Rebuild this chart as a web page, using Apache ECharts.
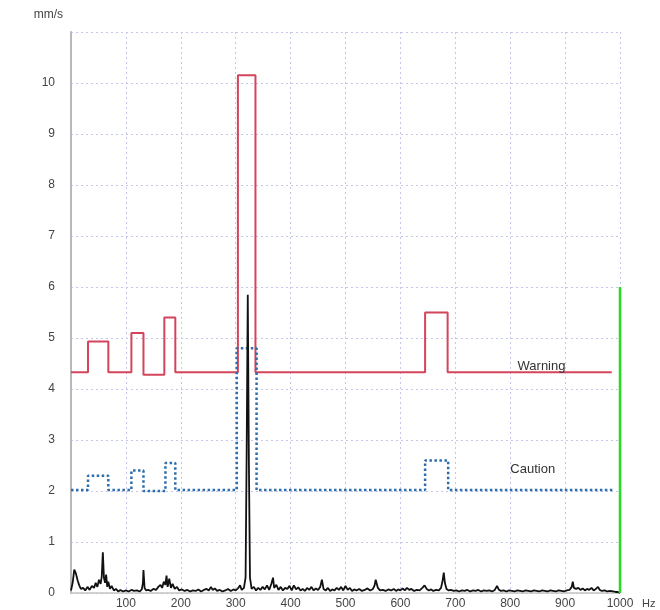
<!DOCTYPE html>
<html>
<head>
<meta charset="utf-8">
<script src="https://cdn.jsdelivr.net/npm/echarts@6/dist/echarts.min.js"></script>
<style>
  html, body { margin: 0; padding: 0; background: #fff; }
  #chart { width: 660px; height: 610px; }
</style>
</head>
<body>
<div id="chart"></div>
<script>
// threshold bands: [Hz, level] breakpoints, each level holds until the next breakpoint
const warning = [
  [0, 4.33], [31, 4.93], [68, 4.33], [110, 5.1], [132, 4.28], [170, 5.4], [190, 4.33],
  [304, 10.15], [336, 4.33], [645, 5.5], [686, 4.33], [985, 4.33],
];
const caution = [
  [0, 2.02], [31, 2.3], [68, 2.02], [110, 2.4], [132, 2.0], [172, 2.55], [190, 2.02],
  [302, 4.8], [338, 2.02], [645, 2.6], [687, 2.02], [987, 2.02],
];
const limitLine = [[1000, 0], [1000, 6]];

// measured velocity spectrum [Hz, mm/s]
const spectrum = [
  [0, 0.05], [3, 0.2], [6, 0.46], [9, 0.38], [12, 0.25], [15, 0.15], [18, 0.08], [22, 0.1],
  [26, 0.05], [30, 0.12], [34, 0.06], [38, 0.14], [42, 0.1], [45, 0.2], [48, 0.12], [51, 0.26],
  [54, 0.18], [56, 0.32], [58, 0.8], [60, 0.3], [62, 0.2], [64, 0.36], [66, 0.12], [68, 0.22],
  [71, 0.08], [74, 0.14], [78, 0.05], [82, 0.08], [86, 0.03], [90, 0.06], [95, 0.03], [100, 0.05],
  [105, 0.03], [110, 0.06], [115, 0.04], [120, 0.05], [125, 0.03], [129, 0.07], [131, 0.2], [132, 0.45],
  [134, 0.1], [137, 0.05], [141, 0.06], [145, 0.04], [150, 0.08], [155, 0.06], [159, 0.12], [163, 0.16],
  [166, 0.1], [169, 0.22], [172, 0.16], [174, 0.34], [176, 0.12], [179, 0.28], [182, 0.1], [185, 0.18],
  [189, 0.08], [193, 0.12], [197, 0.05], [202, 0.07], [207, 0.04], [212, 0.06], [217, 0.03], [222, 0.05],
  [227, 0.04], [232, 0.07], [237, 0.03], [242, 0.06], [247, 0.08], [251, 0.05], [255, 0.12], [258, 0.06],
  [262, 0.09], [266, 0.04], [271, 0.06], [276, 0.03], [281, 0.05], [286, 0.08], [291, 0.04], [296, 0.07],
  [300, 0.05], [304, 0.09], [308, 0.15], [311, 0.06], [315, 0.1], [318, 0.3], [320, 2.8], [322, 5.85],
  [324, 2.6], [326, 0.3], [329, 0.08], [333, 0.12], [337, 0.05], [341, 0.1], [345, 0.06], [349, 0.12],
  [353, 0.07], [357, 0.15], [361, 0.06], [365, 0.18], [368, 0.3], [370, 0.1], [374, 0.16], [378, 0.06],
  [382, 0.12], [386, 0.05], [390, 0.1], [394, 0.08], [398, 0.14], [402, 0.05], [406, 0.15], [410, 0.07],
  [414, 0.11], [418, 0.05], [422, 0.08], [426, 0.04], [430, 0.1], [434, 0.06], [438, 0.12], [442, 0.05],
  [446, 0.09], [450, 0.06], [454, 0.12], [457, 0.26], [460, 0.08], [464, 0.05], [468, 0.1], [472, 0.04],
  [476, 0.07], [480, 0.05], [484, 0.1], [488, 0.06], [492, 0.12], [496, 0.05], [500, 0.14], [504, 0.06],
  [508, 0.1], [512, 0.04], [516, 0.07], [520, 0.05], [525, 0.08], [530, 0.04], [535, 0.06], [540, 0.09],
  [545, 0.05], [550, 0.08], [553, 0.15], [555, 0.26], [557, 0.25], [559, 0.1], [563, 0.05], [568, 0.06],
  [573, 0.04], [578, 0.07], [583, 0.05], [588, 0.08], [592, 0.04], [596, 0.07], [600, 0.05], [604, 0.09],
  [608, 0.05], [612, 0.1], [616, 0.06], [620, 0.08], [625, 0.04], [630, 0.06], [635, 0.05], [640, 0.1],
  [644, 0.15], [648, 0.08], [652, 0.05], [656, 0.07], [660, 0.04], [665, 0.06], [670, 0.05], [674, 0.1],
  [677, 0.25], [679, 0.4], [681, 0.2], [684, 0.08], [688, 0.05], [692, 0.06], [697, 0.04], [702, 0.05],
  [707, 0.03], [712, 0.05], [717, 0.04], [722, 0.06], [727, 0.03], [732, 0.05], [737, 0.04], [742, 0.06],
  [747, 0.03], [752, 0.05], [757, 0.04], [762, 0.05], [767, 0.03], [772, 0.06], [776, 0.14], [779, 0.07],
  [783, 0.04], [788, 0.05], [793, 0.03], [798, 0.05], [803, 0.04], [808, 0.03], [813, 0.05], [818, 0.04],
  [823, 0.03], [828, 0.05], [833, 0.04], [838, 0.03], [843, 0.05], [848, 0.04], [853, 0.03], [858, 0.05],
  [863, 0.04], [868, 0.03], [873, 0.05], [878, 0.04], [883, 0.03], [888, 0.05], [893, 0.04], [898, 0.03],
  [903, 0.05], [908, 0.06], [912, 0.12], [914, 0.22], [916, 0.1], [920, 0.08], [924, 0.1], [928, 0.06],
  [932, 0.09], [936, 0.05], [940, 0.08], [944, 0.06], [948, 0.1], [952, 0.05], [956, 0.08], [960, 0.12],
  [963, 0.06], [967, 0.04], [972, 0.05], [977, 0.03], [982, 0.04], [987, 0.03], [992, 0.02], [996, 0.02],
  [1000, 0.0],
];

const warningLabelAt = [857, 4.45];
const cautionLabelAt = [841, 2.42];

const FONT = 'Liberation Sans, Arial, sans-serif';
const gridLine = { show: true, lineStyle: { color: '#c4c6ea', type: [2, 3], width: 1 } };

const chart = echarts.init(document.getElementById('chart'));

function bandLabel(text, coord) {
  return {
    symbol: 'circle',
    symbolSize: 1,
    silent: true,
    itemStyle: { color: 'rgba(0,0,0,0)' },
    data: [{
      coord,
      value: text,
      label: {
        show: true,
        position: 'inside',
        formatter: text,
        color: '#333',
        fontSize: 13,
        fontFamily: FONT,
      },
    }],
  };
}

chart.setOption({
  animation: false,
  backgroundColor: '#fff',
  grid: { left: 71, right: 40, top: 32, bottom: 17, outerBoundsMode: 'none' },
  xAxis: {
    type: 'value',
    min: 0,
    max: 1000,
    interval: 100,
    name: 'Hz',
    nameLocation: 'end',
    nameGap: 22,
    nameTextStyle: { color: '#444', fontSize: 11, fontFamily: FONT, verticalAlign: 'top', padding: [5, 0, 0, 0] },
    axisLine: { show: true, lineStyle: { color: '#c4c4c4', width: 1.5 } },
    axisTick: { show: false },
    axisLabel: {
      color: '#444',
      fontSize: 12,
      fontFamily: FONT,
      margin: 5,
      formatter: (v) => (v === 0 ? '' : String(v)),
    },
    splitLine: gridLine,
  },
  yAxis: {
    type: 'value',
    min: 0,
    max: 11,
    interval: 1,
    name: 'mm/s',
    nameLocation: 'end',
    nameGap: 11,
    nameTextStyle: { color: '#444', fontSize: 12, fontFamily: FONT, align: 'right', padding: [0, 8, 0, 0] },
    axisLine: { show: true, lineStyle: { color: '#b8b8b8', width: 2 } },
    axisTick: { show: false },
    axisLabel: {
      color: '#444',
      fontSize: 12,
      fontFamily: FONT,
      margin: 16,
      formatter: (v) => (v === 11 ? '' : String(v)),
    },
    splitLine: gridLine,
  },
  series: [
    {
      name: 'Warning',
      type: 'line',
      step: 'end',
      data: warning,
      showSymbol: false,
      lineStyle: { color: '#d2455b', width: 2 },
      markPoint: bandLabel('Warning', warningLabelAt),
      z: 3,
    },
    {
      name: 'Caution',
      type: 'line',
      step: 'end',
      data: caution,
      showSymbol: false,
      lineStyle: { color: '#2d6dab', width: 2.5, type: [2.5, 2.5] },
      markPoint: bandLabel('Caution', cautionLabelAt),
      z: 3,
    },
    {
      name: 'Spectrum',
      type: 'line',
      data: spectrum,
      showSymbol: false,
      lineStyle: { color: '#111', width: 1.8 },
      z: 4,
    },
    {
      name: 'Limit',
      type: 'line',
      data: limitLine,
      showSymbol: false,
      lineStyle: { color: '#22dd22', width: 2.5 },
      z: 5,
    },
  ],
});
</script>
</body>
</html>
